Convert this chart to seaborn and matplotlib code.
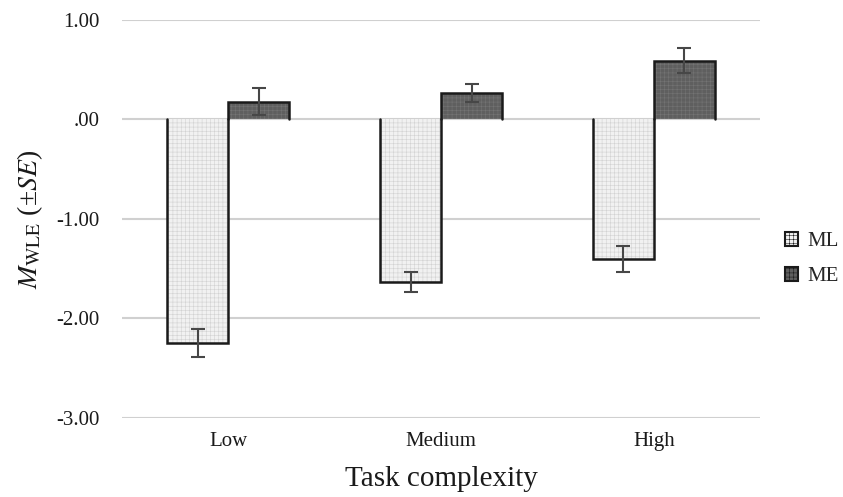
import numpy as np
import pandas as pd
import matplotlib
matplotlib.use('Agg')
import matplotlib.pyplot as plt
import seaborn as sns
from matplotlib.patches import Patch

complexity = ['Low', 'Medium', 'High']
groups = ['ML', 'ME']
ml_mean = [-2.25, -1.63, -1.40]
ml_se = [0.14, 0.10, 0.13]
me_mean = [0.18, 0.27, 0.59]
me_se = [0.14, 0.09, 0.125]
yticks = [-3, -2, -1, 0, 1]
ytick_labels = ['-3.00', '-2.00', '-1.00', '.00', '1.00']

df = pd.DataFrame({
    'complexity': complexity * 2,
    'group': ['ML'] * 3 + ['ME'] * 3,
    'mean': ml_mean + me_mean,
    'se': ml_se + me_se,
})

sns.set_style('white')
plt.rcParams['font.family'] = ['Liberation Serif', 'DejaVu Serif']
plt.rcParams['mathtext.fontset'] = 'stix'
plt.rcParams['hatch.linewidth'] = 0.4

fills = {'ML': '#f1f1f1', 'ME': '#5f5f5f'}
hatch_cols = {'ML': '#d2d2d2', 'ME': '#747474'}

fig = plt.figure(figsize=(8.43, 4.97), dpi=100)
ax = fig.add_axes([0.1447, 0.159, 0.757, 0.8008])
sns.barplot(data=df, x='complexity', y='mean', hue='group', order=complexity,
            hue_order=groups, palette=fills, width=0.573, errorbar=None,
            legend=False, ax=ax, zorder=2)

# texture, outline (no edge on the zero line) and error bars, per bar
for grp, cont in zip(groups, ax.containers):
    for bar, cat in zip(cont, complexity):
        row = df[(df.group == grp) & (df.complexity == cat)].iloc[0]
        bar.set_hatch('++++')
        bar.set_edgecolor(hatch_cols[grp])
        bar.set_linewidth(0)
        x0 = bar.get_x()
        x1 = x0 + bar.get_width()
        h = row['mean']
        ax.plot([x0, x0, x1, x1], [0, h, h, 0], color='#1a1a1a', lw=1.8,
                zorder=3, solid_joinstyle='miter')
        ax.errorbar((x0 + x1) / 2, h, yerr=row['se'], color='#474747',
                    lw=1.5, capsize=5, capthick=1.5, zorder=4)

ax.set_ylim(-3, 1)
ax.set_xlim(-0.5, 2.5)
ax.set_yticks(yticks)
ax.set_yticklabels(ytick_labels)
ax.yaxis.grid(True, color='#d0d0d0', lw=1.5, zorder=0)
ax.set_axisbelow(True)
sns.despine(ax=ax, left=True, bottom=True)
ax.tick_params(axis='both', length=0, labelsize=15, colors='#1a1a1a')
ax.tick_params(axis='y', pad=16)
ax.tick_params(axis='x', pad=10)

ax.set_xlabel('Task complexity', fontsize=21, labelpad=11, color='#1a1a1a')
ax.set_ylabel(r'$M_{\mathrm{WLE}}$ (±$SE$)', fontsize=20, labelpad=8,
              color='#1a1a1a')

handles = [Patch(facecolor=fills[g], edgecolor='#1a1a1a', lw=1.5, hatch='++++')
           for g in groups]
fig.legend(handles, groups, loc='center left', bbox_to_anchor=(0.916, 0.479),
           frameon=False, fontsize=15, handlelength=0.65, handleheight=0.65,
           handletextpad=0.45, labelspacing=0.75, borderaxespad=0.2)

fig.savefig('out.png', dpi=100)
